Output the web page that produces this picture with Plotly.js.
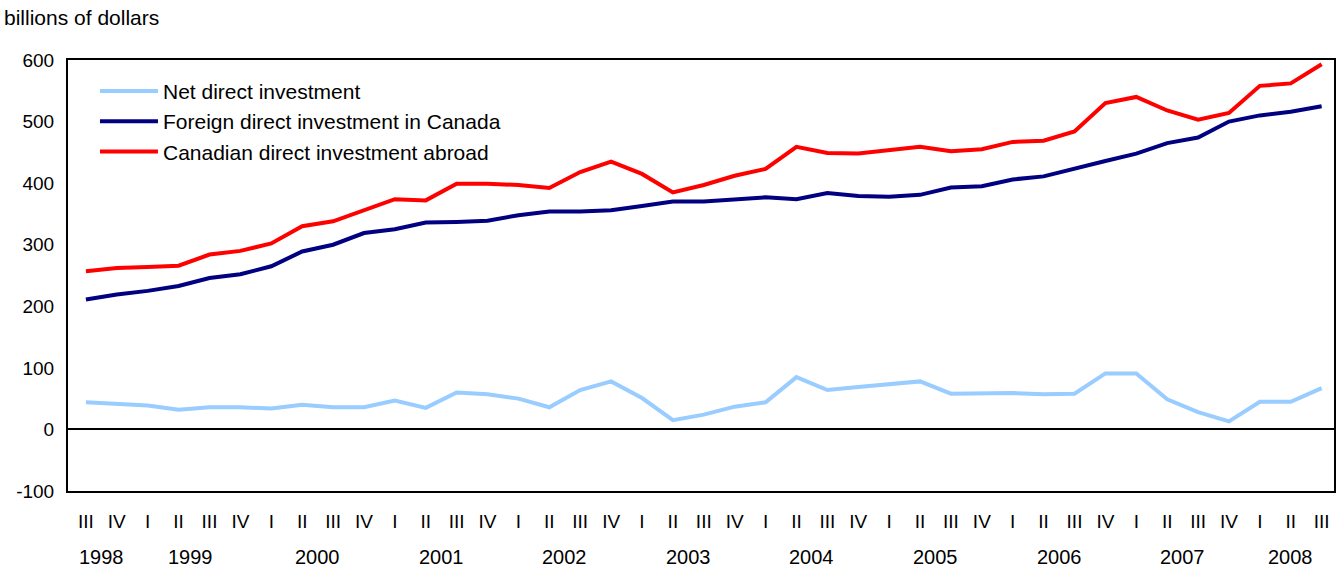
<!DOCTYPE html>
<html>
<head>
<meta charset="utf-8">
<script src="https://cdn.plot.ly/plotly-3.0.1.min.js"></script>
<style>html,body{margin:0;padding:0;background:#fff;}#chart{width:1336px;height:567px;}</style>
</head>
<body>
<div id="chart"></div>
<script>
const quarterLabels = ["III","IV","I","II","III","IV","I","II","III","IV","I","II","III","IV","I","II","III","IV","I","II","III","IV","I","II","III","IV","I","II","III","IV","I","II","III","IV","I","II","III","IV","I","II","III"];
const years = ["1998","1999","2000","2001","2002","2003","2004","2005","2006","2007","2008"];
const yearCenters = [0.5,3.4,7.5,11.5,15.5,19.5,23.5,27.5,31.5,35.5,39];
const yTickVals = [-100,0,100,200,300,400,500,600];
const yTickText = ["-100","0","100","200","300","400","500","600"];
const netDirect = [44,42,39,32,36,36,34,40,36,36,47,35,60,57,50,36,64,78,51,15,24,37,44,85,64,69,74,78,58,59,59,57,58,91,91,49,28,13,45,45,67];
const foreignDirect = [211,219,225,233,246,252,265,289,300,319,325,336,337,339,348,354,354,356,363,370,370,374,377,374,384,379,378,381,393,395,406,411,424,436,448,465,474,500,510,516,525];
const canadianAbroad = [257,262,264,266,284,290,302,330,338,356,374,372,399,399,397,392,418,435,415,385,397,412,423,459,449,448,453,459,452,455,467,469,484,530,540,518,503,514,558,562,593];

const xIdx = quarterLabels.map((_, i) => i);
const font = "Liberation Sans, Arial, sans-serif";

const traces = [
  {name: "Net direct investment", x: xIdx, y: netDirect, type: "scatter", mode: "lines",
   line: {color: "#99CCFF", width: 4}, legendgroup: "a"},
  {name: "Foreign direct investment in Canada", x: xIdx, y: foreignDirect, type: "scatter", mode: "lines",
   line: {color: "#000080", width: 4}, legendgroup: "b"},
  {name: "Canadian direct investment abroad", x: xIdx, y: canadianAbroad, type: "scatter", mode: "lines",
   line: {color: "#FF0000", width: 4}, legendgroup: "c"}
];

const annotations = years.map((yr, i) => ({
  text: yr, x: yearCenters[i], xref: "x", y: -0.153, yref: "paper",
  showarrow: false, xanchor: "center", yanchor: "middle",
  font: {family: font, size: 20, color: "#000"}
}));
annotations.push({
  text: "billions of dollars", x: 0, xref: "paper", xanchor: "left", xshift: -66,
  y: 1, yref: "paper", yanchor: "bottom", yshift: 29, showarrow: false,
  font: {family: font, size: 21, color: "#000"}
});

const layout = {
  width: 1336, height: 567,
  margin: {l: 68, r: 2, t: 60, b: 76},
  paper_bgcolor: "#fff", plot_bgcolor: "#fff",
  font: {family: font, size: 19, color: "#000"},
  showlegend: true,
  legend: {x: 0.0213, y: 0.975, xanchor: "left", yanchor: "top", bgcolor: "rgba(0,0,0,0)",
           font: {family: font, size: 21, color: "#000"}, tracegroupgap: 4, traceorder: "normal",
           itemwidth: 58},
  xaxis: {range: [-0.58, 40.4], tickmode: "array", tickvals: xIdx, ticktext: quarterLabels,
          showgrid: false, zeroline: false, showline: true, linecolor: "#000", linewidth: 2, mirror: true,
          ticks: "", ticklabelstandoff: 12, tickfont: {family: font, size: 19, color: "#000"}, fixedrange: true},
  yaxis: {range: [-100, 600], tickmode: "array", tickvals: yTickVals, ticktext: yTickText,
          showgrid: false, zeroline: true, zerolinecolor: "#000", zerolinewidth: 2,
          showline: true, linecolor: "#000", linewidth: 2, mirror: true,
          ticks: "", ticklabelstandoff: 8, tickfont: {family: font, size: 19, color: "#000"}, fixedrange: true},
  annotations: annotations
};

Plotly.newPlot("chart", traces, layout, {displayModeBar: false, staticPlot: true});
</script>
</body>
</html>
